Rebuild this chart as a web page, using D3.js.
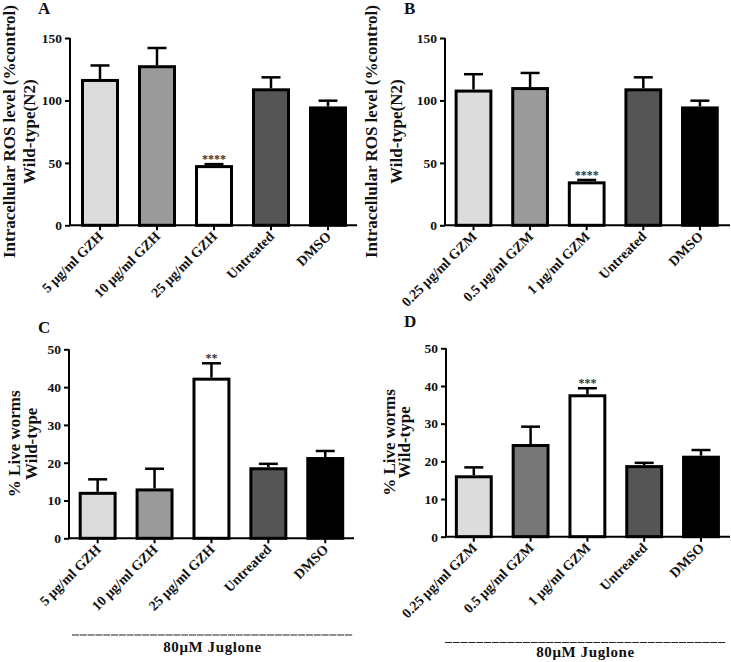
<!DOCTYPE html>
<html>
<head>
<meta charset="utf-8">
<script src="https://cdn.jsdelivr.net/npm/d3@7"></script>
<style>
  html, body { margin: 0; padding: 0; background: #fff; }
  svg { display: block; }
  text { font-family: "Liberation Serif", "Times New Roman", serif; font-weight: bold; fill: #111; }
</style>
</head>
<body>
<svg id="chart" width="731" height="662"></svg>
<script>
// ---------- data ----------
const catsGZH = ["5 μg/ml GZH", "10 μg/ml GZH", "25 μg/ml GZH", "Untreated", "DMSO"];
const catsGZM = ["0.25 μg/ml GZM", "0.5 μg/ml GZM", "1 μg/ml GZM", "Untreated", "DMSO"];

const rosGZH = [116, 127, 47, 108.5, 94];
const semRosGZH = [12, 15, 2, 10, 5.8];
const sigRosGZH = ["", "", "****", "", ""];

const rosGZM = [107.5, 109.5, 34, 108.5, 94];
const semRosGZM = [13.5, 12.5, 2.3, 10, 5.8];
const sigRosGZM = ["", "", "****", "", ""];

const liveGZH = [11.9, 12.8, 42.1, 18.4, 21.1];
const semLiveGZH = [3.7, 5.6, 4.2, 1.3, 2.0];
const sigLiveGZH = ["", "", "**", "", ""];

const liveGZM = [15.9, 24.2, 37.4, 18.6, 21.1];
const semLiveGZM = [2.5, 5.0, 2.0, 1.0, 1.9];
const sigLiveGZM = ["", "", "***", "", ""];

const ticksROS = [0, 50, 100, 150];
const ticksLive = [0, 10, 20, 30, 40, 50];

const fillsGZH = ["#dcdcdc", "#9a9a9a", "#ffffff", "#555555", "#000000"];
const fillsGZM = ["#dcdcdc", "#9a9a9a", "#ffffff", "#555555", "#000000"];
const fillsGZMLive = ["#dcdcdc", "#777777", "#ffffff", "#555555", "#000000"];

const panelLetters = ["A", "B", "C", "D"];
const titleROS = ["Intracellular ROS level (%control)", "Wild-type(N2)"];
const titleLive = ["% Live worms", "Wild-type"];
const footLabel = "80μM Juglone";

// ---------- layout ----------
const svg = d3.select("#chart");

const panels = [
  { letter: panelLetters[0], cats: catsGZH, vals: rosGZH, sem: semRosGZH, sig: sigRosGZH, fills: fillsGZH,
    ticks: ticksROS, ymax: 150, axisX: 70, xEnd: 357, bandX: [71.5, 356.5], y0: 225.3, y1: 38,
    letterPos: [38, 14], title: titleROS, titleX: [15, 35], foot: null },
  { letter: panelLetters[1], cats: catsGZM, vals: rosGZM, sem: semRosGZM, sig: sigRosGZM, fills: fillsGZM,
    ticks: ticksROS, ymax: 150, axisX: 445, xEnd: 730, bandX: [445.2, 728.2], y0: 225.3, y1: 38,
    letterPos: [404, 14], title: titleROS, titleX: [377, 402], foot: null },
  { letter: panelLetters[2], cats: catsGZH, vals: liveGZH, sem: semLiveGZH, sig: sigLiveGZH, fills: fillsGZH,
    ticks: ticksLive, ymax: 50, axisX: 69, xEnd: 354, bandX: [69.2, 353.7], y0: 538.3, y1: 349.3,
    letterPos: [38, 333], title: titleLive, titleX: [20, 37], foot: { x1: 72, x2: 353, y: 635, ty: 652 } },
  { letter: panelLetters[3], cats: catsGZM, vals: liveGZM, sem: semLiveGZM, sig: sigLiveGZM, fills: fillsGZMLive,
    ticks: ticksLive, ymax: 50, axisX: 446, xEnd: 730, bandX: [445.4, 729.4], y0: 536.7, y1: 348.3,
    letterPos: [404, 327], title: titleLive, titleX: [395, 410], foot: { x1: 445, x2: 726, y: 642.5, ty: 656.5 } }
];

panels.forEach(p => {
  const g = svg.append("g");
  const x = d3.scaleBand().domain(p.cats).range(p.bandX).paddingInner(0.386).paddingOuter(0.193);
  const y = d3.scaleLinear().domain([0, p.ymax]).range([p.y0, p.y1]);
  const data = p.cats.map((c, i) => ({ c, v: p.vals[i], e: p.sem[i], s: p.sig[i], f: p.fills[i] }));
  const cx = d => x(d.c) + x.bandwidth() / 2;

  // bars
  g.selectAll("rect.bar").data(data).enter().append("rect")
    .attr("class", "bar")
    .attr("x", d => x(d.c))
    .attr("width", x.bandwidth())
    .attr("y", d => y(d.v))
    .attr("height", d => y(0) - y(d.v))
    .attr("fill", d => d.f)
    .attr("stroke", "#000")
    .attr("stroke-width", 3);

  // error bars (upper only)
  g.selectAll("line.err").data(data).enter().append("line")
    .attr("class", "err")
    .attr("x1", cx).attr("x2", cx)
    .attr("y1", d => y(d.v) - 1.5).attr("y2", d => y(d.v + d.e))
    .attr("stroke", "#000").attr("stroke-width", 2.5);
  g.selectAll("line.cap").data(data).enter().append("line")
    .attr("class", "cap")
    .attr("x1", d => cx(d) - 9.5).attr("x2", d => cx(d) + 9.5)
    .attr("y1", d => y(d.v + d.e)).attr("y2", d => y(d.v + d.e))
    .attr("stroke", "#000").attr("stroke-width", 2.5);

  // significance
  g.selectAll("text.sig").data(data.filter(d => d.s)).enter().append("text")
    .attr("class", "sig")
    .attr("x", cx).attr("y", d => y(d.v + d.e) - 1)
    .attr("text-anchor", "middle")
    .style("font-size", "12px").style("fill", "#333")
    .text(d => d.s);

  // y axis
  const yAxis = d3.axisLeft(y).tickValues(p.ticks).tickSize(5).tickPadding(3).tickFormat(d3.format("d"));
  const ya = g.append("g").attr("transform", `translate(${p.axisX},0)`).call(yAxis);
  ya.select(".domain").attr("stroke", "#000").attr("stroke-width", 2).attr("d", `M0,${p.y1}V${p.y0}`);
  ya.selectAll(".tick line").attr("stroke", "#000").attr("stroke-width", 2);
  ya.selectAll(".tick text").style("font-family", "Liberation Serif, serif").style("font-weight", "bold")
    .style("font-size", "13.5px").attr("fill", "#111");

  // x axis (ticks only, labels drawn rotated below)
  const xAxis = d3.axisBottom(x).tickSize(5).tickSizeOuter(0).tickFormat(() => "");
  const xa = g.append("g").attr("transform", `translate(0,${p.y0})`).call(xAxis);
  xa.select(".domain").attr("stroke", "#000").attr("stroke-width", 2).attr("d", `M${p.axisX - 1},0H${p.xEnd}`);
  xa.selectAll(".tick line").attr("stroke", "#000").attr("stroke-width", 2);

  // rotated category labels
  g.selectAll("text.xl").data(data).enter().append("text")
    .attr("class", "xl")
    .attr("text-anchor", "end")
    .attr("transform", d => `translate(${cx(d) + 4},${p.y0 + 12}) rotate(-45)`)
    .style("font-size", "14px")
    .text(d => d.c);

  // y title (two lines)
  const ymid = (p.y0 + p.y1) / 2;
  p.title.forEach((t, i) => {
    g.append("text")
      .attr("transform", `translate(${p.titleX[i]},${ymid}) rotate(-90)`)
      .attr("text-anchor", "middle")
      .style("font-size", "17px")
      .text(t);
  });

  // panel letter
  g.append("text").attr("x", p.letterPos[0]).attr("y", p.letterPos[1])
    .style("font-size", "17px").text(p.letter);

  // footer
  if (p.foot) {
    g.append("line").attr("x1", p.foot.x1).attr("x2", p.foot.x2)
      .attr("y1", p.foot.y).attr("y2", p.foot.y)
      .attr("stroke", "#222").attr("stroke-width", 1.2).attr("stroke-dasharray", "7,0.8");
    g.append("text").attr("x", (p.foot.x1 + p.foot.x2) / 2).attr("y", p.foot.ty)
      .attr("text-anchor", "middle").style("font-size", "15px").style("letter-spacing", "0.6px")
      .text(footLabel);
  }
});
</script>
</body>
</html>
